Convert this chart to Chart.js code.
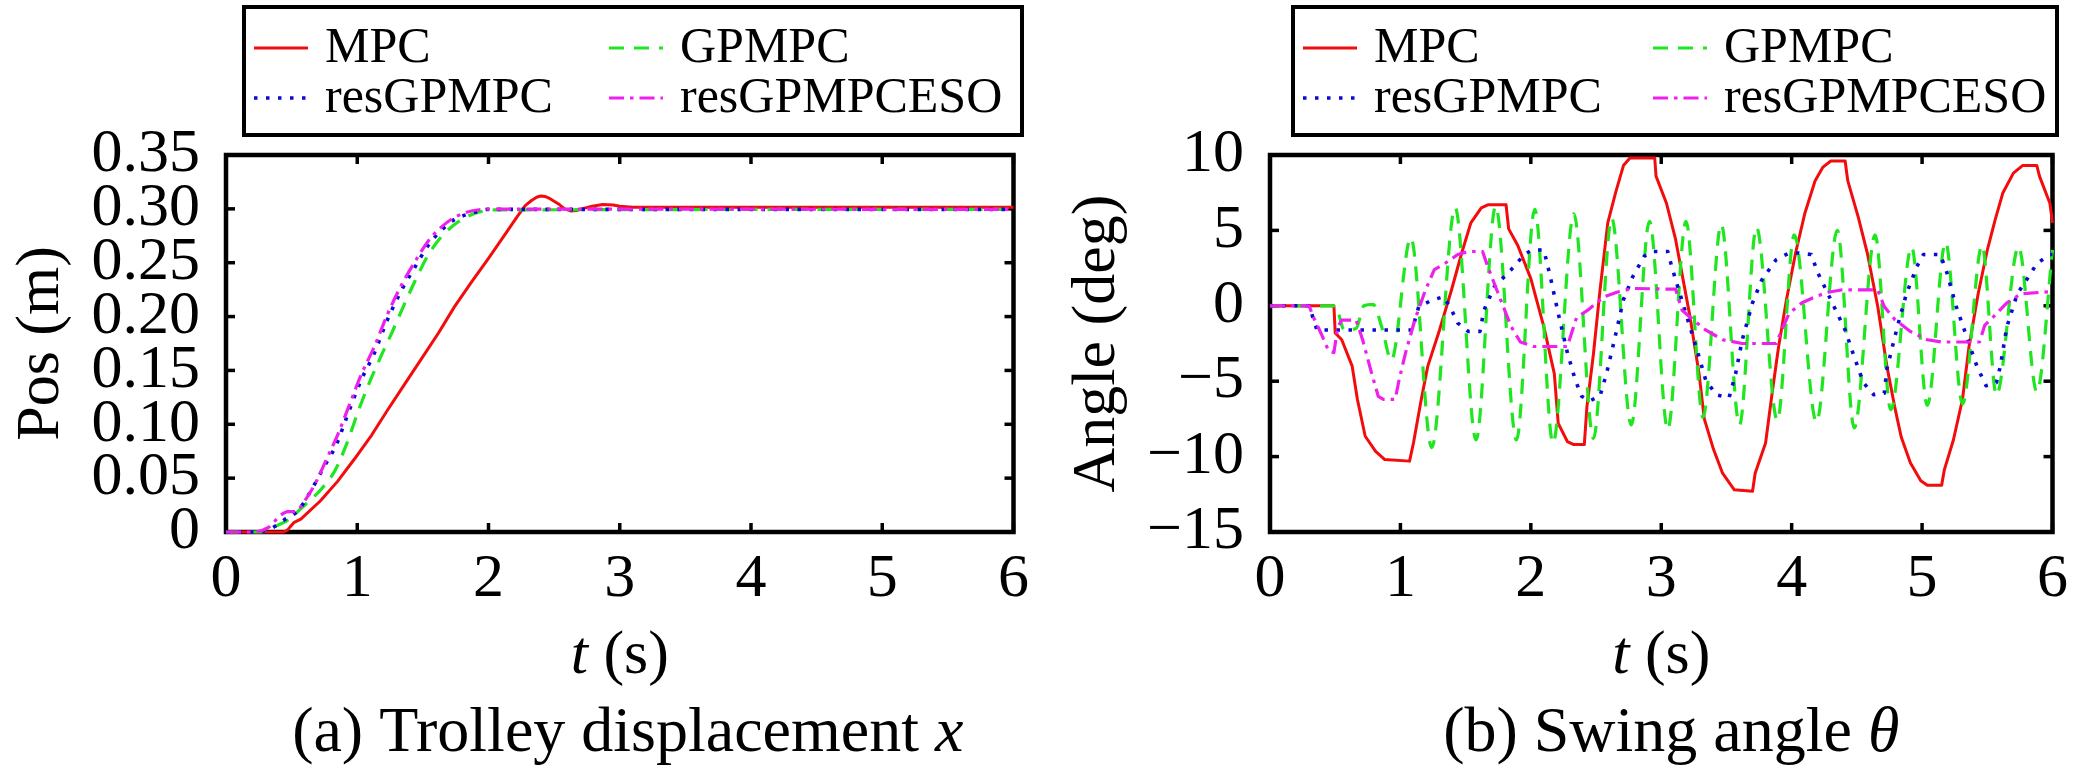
<!DOCTYPE html>
<html><head><meta charset="utf-8">
<script src="https://cdn.jsdelivr.net/npm/chart.js@4.4.0/dist/chart.umd.min.js"></script>
<style>
html,body{margin:0;padding:0;background:#fff;}
#wrap{position:relative;width:2079px;height:780px;overflow:hidden;}
canvas{position:absolute;top:0;}
</style></head><body>
<div id="wrap">
<canvas id="c1" style="left:0;width:1040px;height:780px"></canvas>
<canvas id="c2" style="left:1040px;width:1039px;height:780px"></canvas>
</div>
<script>
// ---------- axes / ticks ----------
const timeTicks = [0, 1, 2, 3, 4, 5, 6];
const posTicks = [0, 0.05, 0.10, 0.15, 0.20, 0.25, 0.30, 0.35];
const angleTicks = [-15, -10, -5, 0, 5, 10];
const seriesNames = ['MPC', 'GPMPC', 'resGPMPC', 'resGPMPCESO'];

// ---------- (a) trolley displacement ----------
const mpcPosT = [0,0.44,0.47,0.49,0.52,0.57,0.72,0.85,0.98,1.11,1.23,1.36,1.49,1.62,1.74,1.87,2.0,2.13,2.22,2.28,2.33,2.37,2.40,2.43,2.46,2.50,2.54,2.58,2.63,2.67,2.71,2.79,2.87,2.95,3.0,3.10,6.0];
const mpcPosV = [0,0,0.002,0.005,0.009,0.012,0.029,0.047,0.068,0.090,0.113,0.137,0.161,0.185,0.209,0.232,0.254,0.277,0.293,0.303,0.308,0.311,0.312,0.3115,0.310,0.307,0.304,0.300,0.298,0.2985,0.300,0.3025,0.304,0.3035,0.3025,0.3015,0.3015];
const gpPosT = [0,0.25,0.37,0.47,0.60,0.72,0.83,0.92,1.01,1.09,1.18,1.26,1.35,1.44,1.54,1.64,1.77,1.90,2.05,6.0];
const gpPosV = [0,0,0.005,0.011,0.025,0.039,0.057,0.082,0.113,0.138,0.163,0.184,0.209,0.233,0.257,0.274,0.288,0.296,0.299,0.2995];
const resPosT = [0,0.21,0.34,0.44,0.55,0.65,0.74,0.84,0.93,1.03,1.13,1.23,1.34,1.44,1.54,1.64,1.74,1.87,2.0,6.0];
const resPosV = [0,0,0.003,0.011,0.020,0.039,0.059,0.081,0.110,0.141,0.166,0.197,0.225,0.246,0.266,0.280,0.290,0.296,0.2995,0.2995];
const esoPosT = [0,0.20,0.32,0.42,0.47,0.53,0.60,0.68,0.76,0.85,0.94,1.03,1.13,1.23,1.34,1.44,1.54,1.64,1.74,1.87,2.0,6.0];
const esoPosV = [0,0,0.004,0.016,0.019,0.019,0.029,0.045,0.066,0.090,0.118,0.146,0.172,0.202,0.230,0.251,0.270,0.283,0.292,0.298,0.2998,0.2995];

// ---------- (b) swing angle ----------
const mpcAngT = [0,0.49,0.50,0.55,0.63,0.67,0.73,0.81,0.88,1.07,1.10,1.16,1.21,1.30,1.39,1.47,1.54,1.62,1.67,1.81,1.83,1.90,2.00,2.10,2.18,2.21,2.28,2.33,2.41,2.43,2.48,2.53,2.59,2.65,2.71,2.76,2.95,2.96,3.04,3.11,3.22,3.29,3.33,3.40,3.47,3.56,3.70,3.72,3.80,3.85,3.90,3.96,4.03,4.10,4.18,4.24,4.30,4.41,4.43,4.51,4.58,4.66,4.73,4.79,4.84,4.91,4.99,5.04,5.15,5.17,5.24,5.31,5.36,5.43,5.50,5.56,5.62,5.70,5.77,5.88,5.90,5.98,6.00];
const mpcAngV = [0,0,-1.8,-2.25,-4.0,-6.2,-8.65,-9.65,-10.2,-10.3,-9.1,-6.2,-4.0,-1.6,1.0,3.5,5.5,6.5,6.7,6.7,5.1,4.0,1.8,-1.4,-4.5,-7.8,-9.0,-9.2,-9.2,-6.7,-3.2,1.0,5.5,7.5,9.3,9.8,9.8,8.6,6.8,4.4,-0.7,-4.5,-7.5,-9.5,-11.1,-12.2,-12.3,-11.1,-9.1,-5.8,-2.7,0.4,3.5,6.1,8.3,9.2,9.6,9.6,8.3,5.9,3.5,-0.05,-4.0,-6.7,-8.7,-10.4,-11.6,-11.9,-11.9,-10.9,-8.9,-6.2,-2.7,0.8,3.7,5.7,7.5,8.8,9.3,9.3,8.6,6.8,5.5];
const gpAngT = [0,0.50,0.57,0.66,0.72,0.79,0.86,0.93,1.08,1.24,1.42,1.58,1.73,1.89,2.03,2.17,2.33,2.48,2.62,2.77,2.91,3.05,3.19,3.32,3.46,3.60,3.73,3.89,4.02,4.19,4.35,4.48,4.64,4.76,4.92,5.04,5.18,5.31,5.46,5.57,5.74,5.88,6.0];
const gpAngV = [0,0,-1.6,-1.5,0.0,0.1,-1.5,-3.6,4.5,-9.4,6.5,-8.9,6.6,-8.9,6.4,-9.1,6.1,-8.8,5.8,-7.9,5.6,-8.2,5.6,-7.4,5.4,-7.9,5.2,-7.6,4.7,-7.7,5.0,-8.1,4.7,-6.9,3.9,-6.6,4.2,-6.5,4.0,-5.9,3.9,-5.7,3.7];
const resAngT = [0,0.30,0.36,0.43,1.09,1.14,1.24,1.33,1.38,1.44,1.52,1.61,1.64,1.72,1.85,1.95,2.01,2.10,2.15,2.21,2.28,2.34,2.39,2.45,2.53,2.58,2.64,2.71,2.78,2.87,2.94,3.05,3.08,3.15,3.22,3.28,3.34,3.42,3.52,3.57,3.62,3.70,3.77,3.88,3.98,4.05,4.15,4.20,4.30,4.41,4.48,4.55,4.63,4.71,4.73,4.81,4.88,4.96,5.01,5.14,5.19,5.26,5.34,5.42,5.49,5.57,5.60,5.65,5.73,5.80,5.88,5.98,6.0];
const resAngV = [0,0,-1.6,-1.6,-1.6,-0.07,0.37,0.6,-0.05,-1.15,-1.7,-1.7,-0.3,1.26,2.4,3.4,3.7,3.7,1.9,-0.5,-3.1,-4.9,-6.0,-6.3,-6.0,-4.5,-2.3,0.4,1.9,3.3,3.6,3.6,2.6,0.6,-1.4,-3.1,-4.9,-5.9,-6.1,-4.5,-2.3,0.2,1.7,3.05,3.5,3.5,3.4,2.2,0.4,-1.6,-3.4,-5.1,-5.9,-5.8,-4.2,-1.4,0.8,2.6,3.4,3.4,2.2,0.0,-2.0,-4.0,-5.3,-5.1,-4.0,-1.4,0.8,1.7,2.8,3.4,3.4];
const esoAngT = [0,0.30,0.33,0.39,0.45,0.49,0.52,0.55,0.66,0.71,0.78,0.83,0.87,0.96,0.99,1.04,1.11,1.19,1.26,1.34,1.44,1.52,1.63,1.67,1.75,1.85,1.92,2.02,2.28,2.32,2.35,2.45,2.56,2.66,2.78,3.11,3.16,3.24,3.34,3.47,3.62,3.88,3.98,4.08,4.18,4.28,4.38,4.66,4.71,4.79,4.91,5.04,5.15,5.44,5.48,5.55,5.65,5.76,6.0];
const esoAngV = [0,0,-0.7,-1.8,-3.0,-3.1,-1.4,-0.95,-0.95,-2.25,-4.5,-6.0,-6.2,-6.2,-4.9,-3.1,-0.95,1.0,2.4,2.8,3.4,3.6,3.6,2.6,0.8,-1.4,-2.4,-2.7,-2.7,-1.6,-0.8,-0.2,0.6,0.9,1.15,1.1,-0.3,-0.9,-1.6,-2.25,-2.5,-2.5,-0.5,0.2,0.6,0.9,1.05,1.05,-0.05,-0.9,-1.7,-2.25,-2.4,-2.4,-1.3,-0.7,0.2,0.8,0.95];

// ---------- helpers ----------
const FONT = "'Liberation Serif','Times New Roman',serif";
const COLORS = {mpc:'#f20c0c', gp:'#1fe61f', res:'#0a0ad2', eso:'#ee20ee'};
const STYLES = [
  {color:COLORS.mpc, dash:[], width:3},
  {color:COLORS.gp, dash:[15,10], width:3.2},
  {color:COLORS.res, dash:[3.5,8.5], width:3.6},
  {color:COLORS.eso, dash:[15,6,3.5,6], width:3.2}
];
const pts = (T, V) => T.map((t, i) => ({x: t, y: V[i]}));

function makeDatasets(series, smoothFlags) {
  return series.map((d, i) => ({
    label: seriesNames[i],
    data: d,
    borderColor: STYLES[i].color,
    borderWidth: STYLES[i].width,
    borderDash: STYLES[i].dash,
    borderCapStyle: 'butt',
    borderJoinStyle: 'round',
    pointRadius: 0,
    fill: false,
    tension: 0,
    clip: 5,
    cubicInterpolationMode: smoothFlags[i] ? 'monotone' : 'default',
    order: 4 - i
  }));
}

function drawMixed(ctx, parts, cx, baseline, size) {
  let total = 0;
  parts.forEach(p => { ctx.font = (p.i ? 'italic ' : '') + size + 'px ' + FONT; p.w = ctx.measureText(p.t).width; total += p.w; });
  let x = cx - total / 2;
  ctx.textAlign = 'left'; ctx.textBaseline = 'alphabetic'; ctx.fillStyle = '#000';
  parts.forEach(p => { ctx.font = (p.i ? 'italic ' : '') + size + 'px ' + FONT; ctx.fillText(p.t, x, baseline); x += p.w; });
}

const framePlugin = {
  id: 'frame',
  beforeDatasetsDraw(chart, args, opts) {
    const ctx = chart.ctx, a = chart.chartArea;
    const xs = chart.scales.x, ys = chart.scales.y;
    ctx.save();
    ctx.strokeStyle = '#000';
    ctx.lineCap = 'butt';
    ctx.setLineDash([]);
    const tl = 9;
    ctx.lineWidth = 3.5;
    xs.ticks.forEach(t => {
      const px = xs.getPixelForValue(t.value);
      ctx.beginPath(); ctx.moveTo(px, a.bottom); ctx.lineTo(px, a.bottom - tl); ctx.stroke();
      ctx.beginPath(); ctx.moveTo(px, a.top); ctx.lineTo(px, a.top + tl); ctx.stroke();
    });
    ys.ticks.forEach(t => {
      const py = ys.getPixelForValue(t.value);
      ctx.beginPath(); ctx.moveTo(a.left, py); ctx.lineTo(a.left + tl, py); ctx.stroke();
      ctx.beginPath(); ctx.moveTo(a.right, py); ctx.lineTo(a.right - tl, py); ctx.stroke();
    });
    ctx.lineWidth = 4.5;
    ctx.strokeRect(a.left, a.top, a.right - a.left, a.bottom - a.top);
    ctx.restore();
  },
  afterDraw(chart, args, opts) {
    const ctx = chart.ctx, a = chart.chartArea;
    const cx = (a.left + a.right) / 2;
    ctx.save();
    // legend box
    const L = opts.legend;
    ctx.fillStyle = '#fff';
    ctx.fillRect(L.x, L.y, L.w, L.h);
    ctx.lineWidth = 4;
    ctx.strokeStyle = '#000';
    ctx.setLineDash([]);
    ctx.strokeRect(L.x, L.y, L.w, L.h);
    const cols = [10, L.col2];
    const rows = [62, 112];
    chart.data.datasets.forEach((ds, i) => {
      const col = i % 2, row = Math.floor(i / 2);
      const x0 = L.x + cols[col], base = rows[row];
      const ly = base - 14;
      ctx.save();
      ctx.strokeStyle = ds.borderColor;
      ctx.lineWidth = ds.borderWidth;
      ctx.setLineDash(ds.borderDash);
      ctx.lineCap = 'butt';
      ctx.beginPath(); ctx.moveTo(x0, ly); ctx.lineTo(x0 + 54, ly); ctx.stroke();
      ctx.restore();
      ctx.fillStyle = '#000';
      ctx.font = '50px ' + FONT;
      ctx.textAlign = 'left'; ctx.textBaseline = 'alphabetic';
      ctx.fillText(ds.label, x0 + 71, base);
    });
    // x title and caption
    drawMixed(ctx, [{t:'t', i:true}, {t:' (s)', i:false}], cx, 673, 62);
    drawMixed(ctx, opts.caption, cx + opts.capShift, 751, 64);
    ctx.restore();
  }
};

function makeChart(id, cfg) {
  const canvas = document.getElementById(id);
  canvas.width = cfg.w; canvas.height = 780;
  return new Chart(canvas, {
    type: 'line',
    data: {datasets: cfg.datasets},
    plugins: [framePlugin],
    options: {
      responsive: false,
      animation: false,
      devicePixelRatio: 1,
      events: [],
      layout: {padding: {top: 155, right: cfg.padRight, left: 0, bottom: 0}},
      plugins: {
        legend: {display: false},
        tooltip: {enabled: false},
        frame: {legend: cfg.legend, caption: cfg.caption, capShift: cfg.capShift}
      },
      scales: {
        x: {
          type: 'linear', min: 0, max: 6,
          afterBuildTicks: s => { s.ticks = timeTicks.map(v => ({value: v})); },
          grid: {display: false, drawTicks: false},
          border: {display: false},
          ticks: {font: {family: FONT, size: 62, lineHeight: 1.2}, color: '#000', padding: 11, maxRotation: 0, autoSkip: false,
                  callback: v => String(v)},
          afterFit: s => { s.height = 780 - 532; }
        },
        y: {
          type: 'linear', min: cfg.yMin, max: cfg.yMax,
          afterBuildTicks: s => { s.ticks = cfg.yTicks.map(v => ({value: v})); },
          grid: {display: false, drawTicks: false},
          border: {display: false},
          ticks: {font: {family: FONT, size: 62, lineHeight: 1.0}, color: '#000', padding: 26, autoSkip: false,
                  callback: cfg.yFmt},
          title: {display: true, text: cfg.yTitle, color: '#000', font: {family: FONT, size: 62, lineHeight: 1.2}, padding: {top: cfg.titlePad, bottom: 0}},
          afterFit: s => { s.width = cfg.yWidth; }
        }
      }
    }
  });
}

function build() {
  makeChart('c1', {
    w: 1040, padRight: 24, yWidth: 226, titlePad: 5, capShift: 8,
    yMin: 0, yMax: 0.35, yTicks: posTicks,
    yFmt: v => v === 0 ? '0' : v.toFixed(2),
    yTitle: 'Pos (m)',
    datasets: makeDatasets([pts(mpcPosT, mpcPosV), pts(gpPosT, gpPosV), pts(resPosT, resPosV), pts(esoPosT, esoPosV)], [false, true, true, true]),
    legend: {x: 244, y: 7, w: 778, h: 128, col2: 365},
    caption: [{t:'(a) Trolley displacement ', i:false}, {t:'x', i:true}]
  });
  makeChart('c2', {
    w: 1039, padRight: 19, yWidth: 230, titlePad: 21, capShift: 10,
    yMin: -15, yMax: 10, yTicks: angleTicks,
    yFmt: v => v < 0 ? '\u2212' + Math.abs(v) : String(v),
    yTitle: 'Angle (deg)',
    datasets: makeDatasets([pts(mpcAngT, mpcAngV), pts(gpAngT, gpAngV), pts(resAngT, resAngV), pts(esoAngT, esoAngV)], [false, true, false, false]),
    legend: {x: 253, y: 7, w: 764, h: 128, col2: 360},
    caption: [{t:'(b) Swing angle ', i:false}, {t:'\u03B8', i:true}]
  });
}
if (document.fonts && document.fonts.load) {
  Promise.all([document.fonts.load("62px 'Liberation Serif'"), document.fonts.load("italic 62px 'Liberation Serif'")]).then(build, build);
} else { build(); }
</script>
</body></html>
